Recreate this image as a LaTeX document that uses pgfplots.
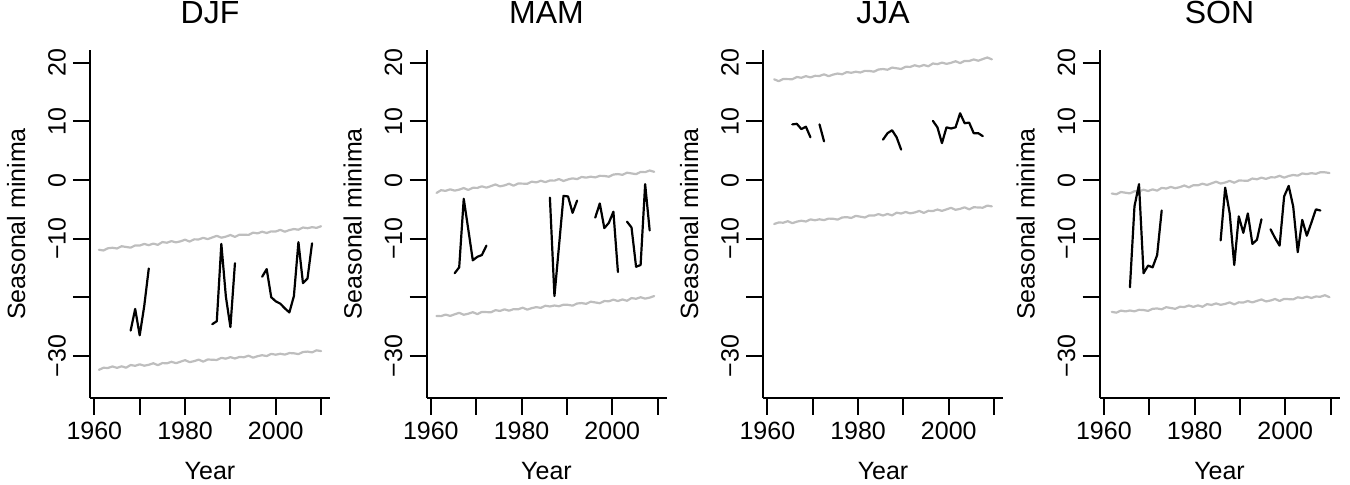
\documentclass[border=0pt]{standalone}
\usepackage{fontspec}
\setmainfont{Liberation Sans}
\usepackage{pgfplots}
\usepackage{pgfplotstable}
\pgfplotsset{compat=1.18}
\definecolor{bandgray}{RGB}{190,190,190}
\newcommand\labfont{\fontsize{12.5pt}{15pt}\selectfont}
\newcommand\titfont{\fontsize{16pt}{19pt}\selectfont}

% ---------- observed seasonal minima ----------
\pgfplotstableread{
x y
1968 -25.7
1969 -22.0
1970 -26.5
1971 -21.5
1972 -15.1
nan nan
1986 -24.6
1987 -24.1
1988 -10.9
1989 -19.9
1990 -25.1
1991 -14.2
nan nan
1997 -16.5
1998 -15.2
1999 -20.0
2000 -20.7
2001 -21.1
2002 -21.9
2003 -22.6
2004 -19.8
2005 -10.6
2006 -17.6
2007 -16.8
2008 -10.8
}\djfobs

\pgfplotstableread{
x y
1965.25 -15.9
1966.25 -14.9
1967.25 -3.2
1968.25 -8.4
1969.25 -13.7
1970.25 -13.1
1971.25 -12.8
1972.25 -11.2
nan nan
1986.25 -3.0
1987.25 -19.8
1988.25 -11.3
1989.25 -2.7
1990.25 -2.8
1991.25 -5.6
1992.25 -3.5
nan nan
1996.25 -6.4
1997.25 -4.0
1998.25 -8.2
1999.25 -7.3
2000.25 -5.4
2001.25 -15.7
nan nan
2003.25 -7.1
2004.25 -8.1
2005.25 -14.8
2006.25 -14.5
2007.25 -0.7
2008.25 -8.6
}\mamobs

\pgfplotstableread{
x y
1965.5 9.5
1966.5 9.6
1967.5 8.7
1968.5 9.1
1969.5 7.3
nan nan
1971.5 9.5
1972.5 6.6
nan nan
1985.5 6.9
1986.5 8.0
1987.5 8.5
1988.5 7.3
1989.5 5.2
nan nan
1996.5 10.1
1997.5 9.0
1998.5 6.3
1999.5 9.0
2000.5 8.8
2001.5 9.0
2002.5 11.4
2003.5 9.7
2004.5 9.8
2005.5 8.0
2006.5 8.0
2007.5 7.5
}\jjaobs

\pgfplotstableread{
x y
1965.75 -18.3
1966.75 -4.5
1967.75 -0.7
1968.75 -15.9
1969.75 -14.6
1970.75 -14.9
1971.75 -12.8
1972.75 -5.2
nan nan
1985.75 -10.3
1986.75 -1.3
1987.75 -5.7
1988.75 -14.5
1989.75 -6.2
1990.75 -9.0
1991.75 -5.7
1992.75 -10.9
1993.75 -10.2
1994.75 -6.7
nan nan
1996.75 -8.4
1997.75 -9.9
1998.75 -11.2
1999.75 -2.8
2000.75 -1.0
2001.75 -4.5
2002.75 -12.3
2003.75 -6.8
2004.75 -9.5
2005.75 -7.3
2006.75 -5.0
2007.75 -5.2
}\sonobs

% ---------- gray bands (lower, upper) ----------
\pgfplotstableread{
x lo hi
1961 -32.40 -11.90
1962 -32.04 -12.02
1963 -32.08 -11.64
1964 -31.82 -11.56
1965 -32.06 -11.68
1966 -31.79 -11.30
1967 -32.03 -11.42
1968 -31.57 -11.54
1969 -31.71 -11.16
1970 -31.45 -11.18
1971 -31.69 -10.90
1972 -31.53 -11.12
1973 -31.27 -10.84
1974 -31.60 -11.06
1975 -31.24 -10.58
1976 -31.28 -10.70
1977 -31.02 -10.42
1978 -31.26 -10.64
1979 -31.00 -10.46
1980 -30.74 -10.18
1981 -31.08 -10.50
1982 -30.91 -10.12
1983 -30.65 -10.14
1984 -30.99 -9.86
1985 -30.63 -10.08
1986 -30.67 -9.80
1987 -30.71 -9.52
1988 -30.35 -9.84
1989 -30.49 -9.66
1990 -30.23 -9.38
1991 -30.46 -9.70
1992 -30.20 -9.32
1993 -30.24 -9.34
1994 -29.98 -9.36
1995 -30.32 -8.98
1996 -30.06 -9.10
1997 -29.90 -8.82
1998 -30.04 -9.04
1999 -29.67 -8.76
2000 -29.81 -8.78
2001 -29.65 -8.50
2002 -29.79 -8.82
2003 -29.53 -8.54
2004 -29.57 -8.36
2005 -29.71 -8.48
2006 -29.35 -8.10
2007 -29.28 -8.22
2008 -29.42 -8.04
2009 -29.06 -8.16
2010 -29.20 -7.88
}\djfband

\pgfplotstableread{
x lo hi
1961.25 -23.20 -2.20
1962.25 -23.23 -1.73
1963.25 -22.96 -1.85
1964.25 -23.19 -1.58
1965.25 -22.92 -1.81
1966.25 -22.66 -1.64
1967.25 -22.99 -1.36
1968.25 -22.82 -1.69
1969.25 -22.55 -1.32
1970.25 -22.88 -1.34
1971.25 -22.51 -1.07
1972.25 -22.54 -1.30
1973.25 -22.57 -1.03
1974.25 -22.21 -0.75
1975.25 -22.34 -1.08
1976.25 -22.07 -0.91
1977.25 -22.30 -0.63
1978.25 -22.03 -0.96
1979.25 -22.06 -0.59
1980.25 -21.79 -0.61
1981.25 -22.12 -0.64
1982.25 -21.86 -0.27
1983.25 -21.69 -0.40
1984.25 -21.82 -0.12
1985.25 -21.45 -0.35
1986.25 -21.58 -0.08
1987.25 -21.41 -0.10
1988.25 -21.54 0.17
1989.25 -21.27 -0.16
1990.25 -21.30 0.11
1991.25 -21.44 0.29
1992.25 -21.07 0.16
1993.25 -21.00 0.53
1994.25 -21.13 0.41
1995.25 -20.76 0.58
1996.25 -20.89 0.45
1997.25 -21.02 0.72
1998.25 -20.65 0.70
1999.25 -20.69 0.57
2000.25 -20.42 0.94
2001.25 -20.65 1.02
2002.25 -20.38 0.89
2003.25 -20.61 1.26
2004.25 -20.14 1.13
2005.25 -20.27 1.01
2006.25 -20.00 1.38
2007.25 -20.24 1.35
2008.25 -20.07 1.63
2009.25 -19.80 1.40
}\mamband

\pgfplotstableread{
x lo hi
1961.5 -7.50 17.20
1962.5 -7.24 16.88
1963.5 -7.28 17.25
1964.5 -7.02 17.23
1965.5 -7.36 17.21
1966.5 -7.10 17.59
1967.5 -6.94 17.46
1968.5 -7.08 17.74
1969.5 -6.72 17.52
1970.5 -6.86 17.79
1971.5 -6.70 17.77
1972.5 -6.84 18.05
1973.5 -6.58 17.73
1974.5 -6.61 18.00
1975.5 -6.75 18.18
1976.5 -6.39 18.06
1977.5 -6.33 18.43
1978.5 -6.47 18.31
1979.5 -6.11 18.49
1980.5 -6.25 18.36
1981.5 -6.39 18.64
1982.5 -6.03 18.62
1983.5 -6.07 18.50
1984.5 -5.81 18.87
1985.5 -6.05 18.95
1986.5 -5.79 18.83
1987.5 -6.03 19.20
1988.5 -5.57 19.08
1989.5 -5.71 18.96
1990.5 -5.45 19.34
1991.5 -5.69 19.31
1992.5 -5.53 19.59
1993.5 -5.27 19.37
1994.5 -5.61 19.64
1995.5 -5.25 19.42
1996.5 -5.29 19.90
1997.5 -5.03 19.78
1998.5 -5.27 20.05
1999.5 -5.00 19.83
2000.5 -4.74 20.01
2001.5 -5.08 20.28
2002.5 -4.92 19.96
2003.5 -4.66 20.34
2004.5 -5.00 20.32
2005.5 -4.64 20.59
2006.5 -4.68 20.37
2007.5 -4.72 20.65
2008.5 -4.36 20.92
2009.5 -4.50 20.60
}\jjaband

\pgfplotstableread{
x lo hi
1961.75 -22.50 -2.30
1962.75 -22.64 -2.42
1963.75 -22.28 -2.04
1964.75 -22.42 -2.16
1965.75 -22.27 -2.28
1966.75 -22.41 -1.90
1967.75 -22.15 -1.92
1968.75 -22.19 -1.65
1969.75 -22.33 -1.87
1970.75 -21.98 -1.59
1971.75 -21.92 -1.81
1972.75 -22.06 -1.33
1973.75 -21.70 -1.45
1974.75 -21.84 -1.17
1975.75 -21.98 -1.39
1976.75 -21.63 -1.21
1977.75 -21.67 -0.93
1978.75 -21.41 -1.25
1979.75 -21.65 -0.87
1980.75 -21.39 -0.90
1981.75 -21.63 -0.62
1982.75 -21.18 -0.84
1983.75 -21.32 -0.56
1984.75 -21.06 -0.28
1985.75 -21.30 -0.60
1986.75 -21.14 -0.42
1987.75 -20.88 -0.14
1988.75 -21.23 -0.46
1989.75 -20.87 -0.08
1990.75 -20.91 -0.10
1991.75 -20.65 -0.12
1992.75 -20.89 0.26
1993.75 -20.63 0.13
1994.75 -20.38 0.41
1995.75 -20.72 0.19
1996.75 -20.56 0.47
1997.75 -20.30 0.45
1998.75 -20.64 0.73
1999.75 -20.28 0.41
2000.75 -20.33 0.69
2001.75 -20.37 0.87
2002.75 -20.01 0.75
2003.75 -20.15 1.13
2004.75 -19.89 1.01
2005.75 -20.13 1.18
2006.75 -19.88 1.06
2007.75 -19.92 1.34
2008.75 -19.66 1.32
2009.75 -20.00 1.20
}\sonband

\pgfplotsset{
  seasonal/.style={
    scale only axis, width=120pt, height=174pt,
    anchor=south west,
    xmin=1959.04, xmax=2011.96, ymin=-37.2, ymax=22.2,
    axis x line*=bottom, axis y line*=left,
    axis line style={-, line width=1pt, black},
    every tick/.style={black, line width=1pt},
    tick align=outside, major tick length=8.5pt,
    xtick={1960,1970,1980,1990,2000,2010},
    xticklabels={1960,,1980,,2000,},
    ytick={20,10,0,-10,-20,-30},
    yticklabels={20,10,0,−10,,−30},
    tick label style={font=\labfont},
    yticklabel style={rotate=90, anchor=south},
    xlabel={Year}, ylabel={Seasonal minima},
    label style={font=\labfont},
    xlabel style={at={(axis description cs:0.5,-0.2328)}, anchor=base},
    ylabel style={at={(axis description cs:-0.308,0.5)}, anchor=center},
    title style={at={(axis description cs:0.5,1)}, anchor=base, yshift=7pt, font=\titfont},
    unbounded coords=jump,
    every axis plot/.append style={line join=round, line cap=round},
  },
  band/.style={color=bandgray, line width=1.1pt},
  obs/.style={color=black, line width=1.1pt},
}

\begin{document}
\begin{tikzpicture}
\begin{axis}[seasonal, at={(45pt,43.5pt)}, title={DJF}]
  \addplot[band] table[x=x, y=lo] {\djfband};
  \addplot[band] table[x=x, y=hi] {\djfband};
  \addplot[obs] table[x=x, y=y] {\djfobs};
\end{axis}
\begin{axis}[seasonal, at={(213.25pt,43.5pt)}, title={MAM}]
  \addplot[band] table[x=x, y=lo] {\mamband};
  \addplot[band] table[x=x, y=hi] {\mamband};
  \addplot[obs] table[x=x, y=y] {\mamobs};
\end{axis}
\begin{axis}[seasonal, at={(381.5pt,43.5pt)}, title={JJA}]
  \addplot[band] table[x=x, y=lo] {\jjaband};
  \addplot[band] table[x=x, y=hi] {\jjaband};
  \addplot[obs] table[x=x, y=y] {\jjaobs};
\end{axis}
\begin{axis}[seasonal, at={(549.75pt,43.5pt)}, title={SON}]
  \addplot[band] table[x=x, y=lo] {\sonband};
  \addplot[band] table[x=x, y=hi] {\sonband};
  \addplot[obs] table[x=x, y=y] {\sonobs};
\end{axis}
\pgfresetboundingbox
\path (0,0) rectangle (675pt,242.5pt);
\end{tikzpicture}
\end{document}
